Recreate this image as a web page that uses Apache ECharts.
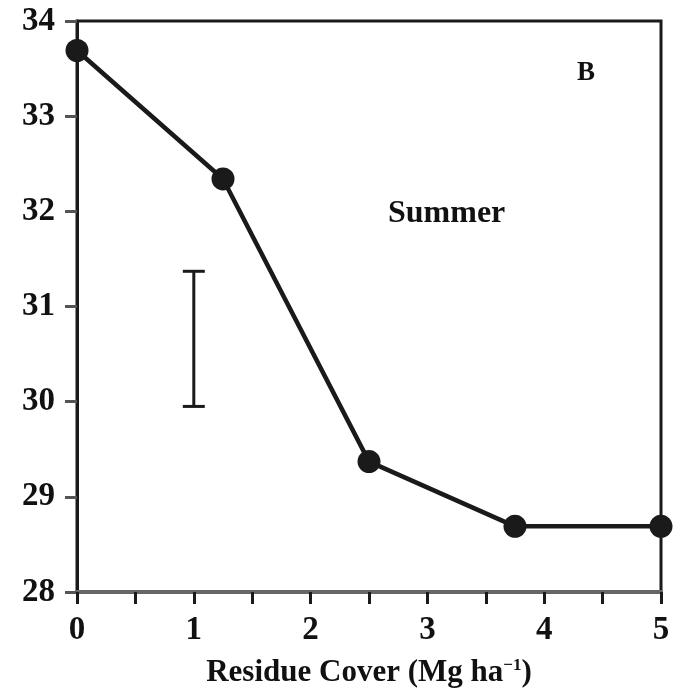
<!DOCTYPE html>
<html>
<head>
<meta charset="utf-8">
<script src="https://cdn.jsdelivr.net/npm/echarts@6/dist/echarts.min.js"></script>
<style>
  html, body { margin: 0; padding: 0; background: #fff; }
  #main { width: 677px; height: 688px; }
</style>
</head>
<body>
<div id="main"></div>
<script>
// residue cover (Mg/ha) and summer values
var residue = [0, 1.25, 2.5, 3.75, 5];
var summer = [33.69, 32.34, 29.37, 28.69, 28.69];
// LSD bar: x, low, high
var lsdBar = [[1, 29.95, 31.37]];

var serif = '"Liberation Serif", "DejaVu Serif", serif';
var myChart = echarts.init(document.getElementById('main'));

myChart.setOption({
    animation: false,
    backgroundColor: '#fff',
    grid: {
        left: 77, right: 16, top: 21, bottom: 96, outerBoundsMode: 'none',
        show: true, borderColor: '#1a1a1a', borderWidth: 3
    },
    xAxis: {
        type: 'value', min: 0, max: 5, interval: 1,
        name: 'Residue Cover (Mg ha{sup|−1})',
        nameLocation: 'middle', nameGap: 65,
        nameTextStyle: {
            fontFamily: serif, fontWeight: 'bold', fontSize: 31, color: '#111',
            rich: { sup: { fontFamily: serif, fontWeight: 'bold', fontSize: 17, color: '#111', padding: [0, 0, 14, 0] } }
        },
        axisLine: { lineStyle: { color: '#666', width: 4 } },
        axisTick: { inside: false, length: 12, lineStyle: { color: '#1a1a1a', width: 3 } },
        minorTick: { show: true, splitNumber: 2, length: 12, lineStyle: { color: '#1a1a1a', width: 3 } },
        axisLabel: { fontFamily: serif, fontWeight: 'bold', fontSize: 33, color: '#111', margin: 22 },
        splitLine: { show: false }
    },
    yAxis: {
        type: 'value', min: 28, max: 34, interval: 1,
        axisLine: { lineStyle: { color: '#1a1a1a', width: 3 } },
        axisTick: { inside: false, length: 12, lineStyle: { color: '#555', width: 3 } },
        axisLabel: { fontFamily: serif, fontWeight: 'bold', fontSize: 33, color: '#111', margin: 22 },
        splitLine: { show: false }
    },
    graphic: [
        { type: 'text', left: 388, top: 198, style: { text: 'Summer', font: 'bold 32px ' + serif, fill: '#111' } },
        { type: 'text', left: 577, top: 60, style: { text: 'B', font: 'bold 27px ' + serif, fill: '#111' } }
    ],
    series: [
        {
            type: 'line',
            data: residue.map(function (x, i) { return [x, summer[i]]; }),
            symbol: 'circle', symbolSize: 23,
            lineStyle: { color: '#1a1a1a', width: 4.5 },
            itemStyle: { color: '#1a1a1a' },
            z: 5
        },
        {
            type: 'custom',
            data: lsdBar,
            renderItem: function (params, api) {
                var top = api.coord([api.value(0), api.value(2)]);
                var bot = api.coord([api.value(0), api.value(1)]);
                var w = 11;
                var st = { stroke: '#1a1a1a', lineWidth: 3 };
                return {
                    type: 'group',
                    children: [
                        { type: 'line', shape: { x1: top[0], y1: top[1], x2: bot[0], y2: bot[1] }, style: st },
                        { type: 'line', shape: { x1: top[0] - w, y1: top[1], x2: top[0] + w, y2: top[1] }, style: st },
                        { type: 'line', shape: { x1: bot[0] - w, y1: bot[1], x2: bot[0] + w, y2: bot[1] }, style: st }
                    ]
                };
            }
        }
    ]
});
</script>
</body>
</html>
